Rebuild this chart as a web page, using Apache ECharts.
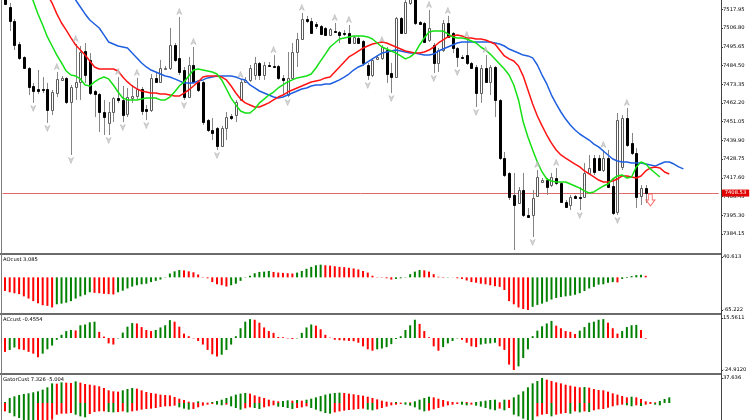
<!DOCTYPE html>
<html><head><meta charset="utf-8">
<script src="https://cdn.jsdelivr.net/npm/echarts@6/dist/echarts.min.js"></script>
<style>html,body{margin:0;padding:0;background:#fff}#c{width:752px;height:420px}</style>
</head><body><div id="c"></div>
<script>
const open = [7525.9,7519.3,7511.0,7497.3,7489.6,7483.0,7472.3,7470.5,7470.5,7470.5,
7458.0,7468.1,7475.9,7477.1,7462.8,7471.7,7474.7,7493.1,7487.8,7469.3,
7467.5,7456.8,7450.3,7456.8,7465.2,7464.0,7455.6,7465.2,7466.3,7470.5,
7458.6,7458.0,7477.1,7474.7,7482.7,7483.0,7496.7,7489.0,7481.8,7465.7,
7484.8,7474.7,7474.7,7452.0,7446.1,7447.3,7436.6,7447.3,7454.4,7455.0,
7464.0,7474.7,7475.9,7478.8,7486.0,7478.8,7484.8,7484.2,7484.2,7477.1,
7466.9,7477.1,7492.5,7500.3,7512.2,7511.0,7509.2,7508.0,7506.8,7502.7,
7505.3,7504.4,7503.9,7503.9,7497.9,7500.9,7499.1,7484.8,7478.8,7488.4,
7489.0,7493.7,7480.0,7477.6,7512.8,7503.9,7521.7,7525.3,7510.1,7509.8,
7499.7,7496.7,7486.0,7493.7,7509.8,7503.9,7494.9,7489.6,7490.7,7486.0,
7483.6,7468.1,7483.0,7474.7,7483.6,7464.0,7429.4,7420.5,7407.4,7402.6,
7410.4,7395.5,7395.5,7406.8,7415.1,7416.3,7413.3,7417.5,7414.5,7403.2,
7401.4,7406.8,7406.2,7406.2,7420.5,7429.4,7429.4,7422.3,7429.4,7412.7,
7397.3,7424.1,7453.2,7438.4,7432.4,7406.8,7411.5];
const close = [7521.4,7510.7,7496.7,7489.0,7483.0,7471.7,7469.6,7469.6,7470.2,7458.0,
7468.7,7476.5,7477.1,7462.8,7471.7,7474.7,7492.5,7478.8,7468.1,7467.5,
7456.8,7453.8,7456.8,7465.2,7464.2,7455.0,7465.7,7466.3,7470.5,7457.4,
7457.4,7477.1,7474.7,7483.0,7483.0,7496.7,7487.8,7480.6,7465.7,7484.8,
7474.7,7469.9,7450.8,7446.1,7444.3,7436.6,7447.3,7453.8,7453.5,7462.8,
7474.7,7475.9,7483.0,7486.0,7478.8,7484.8,7484.2,7483.6,7477.1,7475.9,
7477.1,7492.5,7500.3,7512.2,7511.0,7503.9,7508.0,7503.3,7502.7,7506.2,
7504.7,7502.7,7503.3,7497.9,7501.5,7497.9,7486.0,7478.8,7487.8,7489.3,
7495.5,7479.4,7477.6,7512.8,7503.9,7522.3,7525.3,7509.8,7509.2,7498.5,
7506.8,7486.0,7493.7,7509.8,7501.5,7494.9,7489.6,7489.0,7486.0,7483.0,
7468.1,7483.0,7474.7,7483.6,7464.0,7429.4,7419.3,7406.2,7401.4,7410.4,
7395.5,7394.3,7405.6,7418.1,7416.3,7412.1,7418.1,7414.5,7403.2,7400.2,
7406.2,7405.6,7405.6,7420.5,7423.5,7421.1,7422.3,7429.4,7412.1,7396.7,
7452.0,7453.2,7437.2,7432.4,7406.2,7411.5,7408.53];
const low = [7520.8,7505.0,7493.7,7487.8,7482.4,7466.9,7462.2,7467.5,7468.1,7450.3,
7455.0,7465.7,7475.3,7461.6,7431.2,7464.0,7464.0,7474.1,7466.9,7453.8,
7444.9,7443.1,7443.1,7450.8,7462.2,7450.8,7453.8,7462.2,7464.0,7455.0,
7452.0,7456.8,7474.1,7474.1,7481.8,7481.8,7486.6,7478.8,7464.0,7465.2,
7474.1,7468.7,7449.1,7444.9,7440.1,7434.2,7436.0,7440.1,7452.0,7450.8,
7463.4,7474.1,7474.7,7475.9,7475.9,7475.9,7483.6,7483.0,7475.9,7466.9,
7465.7,7475.9,7483.6,7499.7,7509.8,7503.3,7506.2,7502.7,7502.1,7502.1,
7504.4,7497.9,7502.1,7497.3,7497.3,7497.3,7484.2,7475.9,7477.6,7487.8,
7487.8,7474.1,7468.1,7477.1,7503.3,7503.3,7520.5,7508.6,7508.6,7497.9,
7498.5,7480.0,7480.6,7492.5,7500.9,7491.9,7483.6,7488.4,7484.8,7482.4,
7459.8,7462.2,7474.1,7466.9,7453.8,7428.2,7418.1,7404.4,7374.6,7402.0,
7394.3,7394.0,7382.4,7406.2,7414.5,7407.4,7412.1,7413.3,7402.6,7399.6,
7398.4,7405.0,7398.4,7405.6,7419.3,7419.3,7421.7,7421.1,7411.5,7395.5,
7395.5,7422.3,7436.0,7431.2,7399.6,7401.4,7402.6];
const high = [7527.1,7521.7,7512.2,7498.5,7490.0,7483.6,7474.1,7481.8,7477.6,7474.1,
7469.9,7480.6,7478.2,7477.6,7472.9,7497.3,7496.1,7497.9,7491.9,7469.9,
7468.1,7464.0,7462.8,7465.7,7477.6,7472.3,7471.1,7472.9,7477.1,7471.7,
7461.0,7479.4,7480.6,7487.8,7484.2,7506.8,7497.9,7513.4,7483.6,7489.6,
7495.5,7475.9,7475.3,7452.6,7453.2,7447.9,7448.5,7456.8,7455.6,7464.0,
7475.9,7477.6,7484.8,7489.6,7486.6,7486.6,7486.6,7490.7,7484.8,7478.8,
7492.5,7497.9,7503.9,7515.8,7514.0,7512.8,7510.4,7508.6,7507.4,7506.8,
7509.8,7505.0,7505.6,7508.6,7502.1,7502.1,7499.7,7486.0,7489.0,7490.2,
7496.7,7495.5,7486.0,7513.4,7513.4,7523.5,7528.3,7526.5,7511.0,7510.4,
7517.5,7497.9,7494.9,7511.6,7514.0,7504.4,7495.5,7490.7,7499.7,7486.6,
7484.8,7484.8,7490.7,7484.8,7484.2,7464.5,7433.0,7421.1,7420.5,7412.1,
7420.5,7399.6,7410.4,7422.3,7417.5,7417.5,7420.5,7423.5,7415.1,7404.4,
7407.4,7407.4,7412.1,7426.4,7431.2,7431.2,7431.2,7434.2,7434.2,7417.5,
7456.2,7455.0,7459.2,7444.3,7435.4,7413.3,7413.3];

// Alligator (jaw shifted 8, teeth 5, lips 3 bars forward)
const jaw = [7572.3,7570.0,7567.6,7565.2,7562.2,7559.2,7556.3,7553.3,7549.7,7546.1,
7542.6,7539.0,7535.4,7531.2,7527.1,7523.5,7519.3,7515.2,7511.6,7509.2,
7506.8,7502.7,7498.5,7497.3,7496.1,7495.5,7494.9,7491.9,7489.0,7486.0,
7483.6,7481.8,7480.6,7479.4,7478.2,7477.6,7476.5,7475.3,7474.1,7474.1,
7474.1,7475.3,7475.9,7477.1,7477.6,7478.2,7478.2,7478.2,7478.2,7477.6,
7476.5,7475.9,7472.9,7471.1,7469.3,7468.1,7466.9,7465.7,7465.1,7465.7,
7466.9,7468.1,7469.3,7470.5,7471.1,7472.3,7472.9,7472.9,7473.5,7473.5,
7474.7,7475.9,7477.6,7479.4,7481.8,7483.6,7484.8,7486.6,7488.4,7490.2,
7491.9,7492.5,7493.1,7493.7,7493.1,7492.5,7491.9,7491.9,7491.3,7490.7,
7490.7,7491.3,7493.1,7494.3,7495.5,7496.7,7497.9,7498.5,7498.5,7498.5,
7498.5,7498.5,7498.5,7498.5,7497.9,7497.3,7496.1,7494.3,7493.1,7491.9,
7490.7,7490.2,7489.0,7484.8,7478.8,7473.5,7466.9,7461.6,7456.8,7452.6,
7449.1,7446.1,7443.7,7441.9,7440.1,7437.7,7436.0,7433.6,7431.2,7428.8,
7427.6,7427.0,7427.0,7426.4,7426.4,7426.4,7425.8,7425.2,7424.6,7425.8,
7427.0,7427.0,7425.8,7424.1,7422.9];
const teeth = [7572.3,7567.6,7562.8,7558.0,7553.3,7547.9,7542.6,7537.2,7531.8,7526.5,
7521.7,7515.2,7509.8,7505.6,7500.9,7496.7,7493.7,7490.7,7487.2,7483.6,
7482.4,7482.4,7482.4,7482.4,7481.2,7477.6,7474.7,7472.3,7470.5,7469.3,
7468.7,7468.1,7468.1,7467.5,7467.5,7466.9,7466.3,7466.3,7468.1,7469.9,
7472.3,7474.7,7477.6,7478.2,7478.2,7478.2,7477.6,7475.9,7472.3,7468.1,
7464.5,7462.2,7461.0,7459.8,7459.8,7461.0,7462.2,7464.0,7465.7,7466.9,
7468.7,7469.9,7471.1,7472.3,7473.5,7474.7,7475.3,7475.9,7477.1,7477.6,
7480.6,7483.6,7486.6,7489.6,7491.3,7493.1,7494.9,7496.1,7497.3,7497.9,
7498.5,7497.9,7496.7,7495.5,7494.3,7493.1,7492.5,7491.9,7491.9,7492.5,
7493.7,7495.5,7497.9,7499.7,7501.5,7502.1,7502.7,7502.1,7500.9,7500.9,
7500.3,7500.3,7499.7,7498.5,7497.3,7493.7,7490.2,7488.4,7487.2,7484.2,
7478.2,7469.9,7461.6,7454.4,7448.5,7443.1,7438.3,7434.2,7431.2,7429.4,
7427.6,7425.8,7424.1,7421.7,7419.9,7418.1,7416.3,7415.1,7415.1,7415.7,
7416.9,7418.7,7418.7,7418.1,7417.5,7418.7,7421.7,7423.5,7424.1,7423.5,
7421.1,7419.9];
const lips = [7555.7,7550.3,7544.9,7539.6,7534.2,7528.9,7522.9,7515.2,7508.6,7501.5,
7496.1,7490.7,7486.0,7481.2,7478.8,7478.2,7476.5,7472.9,7472.3,7474.7,
7476.5,7477.6,7476.5,7472.9,7468.7,7465.1,7464.0,7464.0,7464.0,7464.5,
7465.1,7465.1,7465.1,7464.0,7464.0,7465.7,7468.7,7472.3,7474.7,7478.2,
7481.8,7482.4,7481.8,7481.2,7480.6,7479.4,7475.9,7470.5,7465.1,7461.0,
7457.4,7456.2,7456.2,7458.6,7462.2,7464.5,7466.9,7468.7,7471.1,7472.9,
7474.7,7475.9,7477.1,7477.6,7478.2,7479.4,7483.0,7487.2,7491.3,7495.5,
7497.9,7500.3,7500.9,7501.5,7502.1,7502.1,7502.1,7501.5,7500.3,7497.9,
7495.5,7494.3,7493.1,7491.9,7490.2,7488.4,7489.6,7491.9,7496.7,7500.9,
7504.4,7505.0,7505.0,7505.0,7503.3,7501.5,7500.9,7500.9,7500.3,7499.1,
7497.9,7495.5,7493.7,7491.3,7488.4,7485.4,7482.4,7478.8,7472.9,7464.0,
7450.8,7441.9,7434.2,7427.0,7421.1,7416.9,7415.7,7415.1,7415.1,7415.1,
7413.9,7412.7,7411.5,7409.8,7408.6,7409.2,7411.0,7412.7,7413.9,7416.9,
7418.7,7419.3,7417.5,7418.1,7424.1,7427.0,7425.8,7422.9,7420.5,7418.1];

const fractalUp = [11,15,24,28,37,40,50,57,63,70,73,80,90,94,98,102,113,117,127,132];
const fractalDown = [6,9,14,22,25,30,38,45,60,77,82,91,96,100,112,122,130];
const signalArrow = [[137, 7404.4]];

const ao = [-27.2,-29.8,-31.7,-33.5,-38.0,-42.4,-47.5,-51.9,-55.7,-57.0,
-60.1,-53.8,-52.5,-50.6,-47.5,-42.4,-38.0,-34.8,-29.8,-31.0,
-31.7,-32.9,-33.5,-34.2,-29.8,-26.6,-22.2,-18.4,-15.8,-13.9,
-12.7,-9.5,-7.0,-4.4,-0.6,7.6,12.0,14.6,13.9,12.0,
10.1,5.7,0.6,-1.9,-9.5,-13.9,-15.8,-18.4,-15.8,-12.7,
-7.0,-0.6,3.2,8.2,10.8,11.4,12.7,10.8,9.5,8.9,
8.2,7.6,9.5,12.7,17.1,20.9,24.1,25.3,24.1,23.4,
22.2,20.9,20.3,19.0,17.7,15.8,12.7,9.5,3.2,0.6,
-0.6,-1.9,-4.4,-3.2,-1.9,-0.6,6.3,11.4,14.6,13.9,
11.4,6.3,1.3,-0.9,-0.6,-0.3,-1.9,-3.2,-6.3,-9.5,
-10.8,-12.7,-13.9,-15.8,-17.7,-19.0,-25.3,-47.5,-53.8,-60.1,
-63.3,-65.2,-58.9,-55.1,-52.5,-48.7,-44.3,-41.1,-39.2,-38.0,
-36.7,-34.8,-31.7,-27.2,-22.2,-19.0,-14.6,-13.9,-10.8,-9.5,
-10.1,-3.2,-1.3,2.5,4.4,5.1,3.085];
const ac = [-10.8,-9.3,-7.4,-8.8,-9.3,-10.8,-12.2,-15.0,-12.2,-8.8,
-5.9,-1.4,2.5,5.4,6.2,5.9,9.9,10.5,12.2,12.7,
4.8,1.1,-4.2,-5.1,-0.3,4.2,8.8,11.6,11.3,8.5,
6.2,5.4,6.2,8.2,9.9,13.9,12.7,8.8,3.4,1.4,
-0.3,-2.3,-5.1,-9.3,-12.7,-14.4,-13.0,-9.3,-5.1,1.4,
7.6,12.7,14.7,14.2,11.9,8.2,5.4,4.0,0.8,0.6,
-0.3,-0.8,-0.3,4.0,8.2,10.5,9.6,6.8,2.5,0.3,
-1.4,-1.7,-2.0,-2.3,-2.5,-3.7,-6.5,-8.8,-9.9,-8.8,
-8.2,-7.1,-4.8,-0.8,1.4,6.2,9.9,14.2,11.0,5.4,
0.6,-6.5,-9.9,-7.1,-4.2,-2.3,-0.3,-1.4,-3.7,-6.5,
-7.1,-5.1,-4.5,-4.2,-3.7,-6.5,-9.3,-20.7,-24.9,-22.1,
-15.6,-8.8,1.4,5.7,9.1,11.3,13.3,9.6,7.6,5.4,
4.8,3.1,5.7,8.5,11.9,12.7,14.2,14.7,11.9,7.6,
3.4,5.4,8.5,9.9,10.2,6.2,-0.4554];
const gatorUp = [1.5,7.5,10.0,12.0,13.6,14.6,16.1,17.6,20.1,23.6,
29.6,29.1,31.1,30.6,30.1,32.6,30.6,28.6,27.6,26.6,
25.1,22.6,19.1,17.6,17.1,19.1,21.1,22.6,21.6,19.1,
16.6,15.1,14.1,12.6,12.0,11.5,9.0,6.5,4.5,2.0,
1.0,2.5,1.0,0.5,1.5,3.0,5.0,7.5,10.0,12.6,
14.1,15.1,14.1,11.5,9.5,7.5,5.0,3.5,2.5,3.0,
4.0,3.5,4.5,3.5,5.0,6.5,8.5,10.5,12.6,14.1,
15.1,15.6,15.1,14.1,13.1,12.0,11.0,9.5,7.5,5.5,
3.5,2.0,1.0,1.5,0.5,1.0,0.9,2.5,5.0,7.5,
9.5,8.5,6.5,4.5,2.5,1.5,1.0,2.0,1.5,0.5,
1.5,2.5,3.5,4.5,5.0,1.0,5.0,4.8,8.5,12.6,
17.6,23.6,29.6,33.1,37.636,35.1,33.1,31.1,29.6,27.6,
26.1,24.6,23.6,24.1,23.1,21.1,19.6,19.1,17.1,14.6,
12.6,10.5,8.5,9.5,8.5,6.0,2.5,1.5,1.0,3.0,
6.0,8.5];
const gatorDown = [-12.6,-15.1,-20.1,-22.6,-25.6,-27.6,-30.1,-30.0,-28.6,-26.6,
-25.1,-17.6,-16.1,-16.0,-15.1,-17.6,-20.1,-21.6,-16.6,-13.6,
-12.6,-12.5,-13.6,-14.1,-13.6,-12.6,-14.1,-12.6,-11.5,-10.0,
-9.0,-8.5,-7.5,-6.0,-5.0,-4.9,-4.0,-6.5,-8.5,-10.0,
-9.0,-6.5,-4.0,-2.5,-1.5,-2.5,-3.5,-2.5,-5.0,-7.5,
-10.0,-8.0,-6.5,-7.5,-9.0,-6.5,-5.0,-3.5,-5.5,-6.0,
-7.5,-9.0,-7.5,-6.5,-5.0,-7.5,-10.0,-12.6,-15.1,-16.1,
-14.1,-12.6,-11.5,-10.5,-10.0,-9.0,-8.5,-10.0,-11.0,-9.5,
-7.5,-5.5,-3.5,-2.5,-1.5,-2.5,-4.0,-6.5,-10.0,-12.6,
-11.5,-9.5,-7.5,-5.5,-3.5,-2.5,-1.5,-2.5,-3.5,-2.5,
-4.0,-5.5,-7.5,-9.5,-11.0,-8.5,-11.0,-7.5,-17.6,-20.1,
-23.6,-26.6,-27.6,-20.1,-17.6,-16.6,-20.1,-17.6,-16.1,-15.1,
-16.1,-12.6,-14.1,-12.6,-13.6,-11.0,-9.5,-9.0,-7.0,-5.0,
-3.5,-2.5,-3.5,-5.0,-3.5,-4.5,-2.5,-1.5,-2.5,-3.5];
const gatorLast = [7.326, -5.004];

const mainTicks = [7384.15,7395.30,7406.45,7417.60,7428.75,7439.90,7451.05,7462.20,7473.35,7484.50,7495.65,7506.80,7517.95];
const aoRange = [-65.222, 40.613];
const acRange = [-24.912, 15.5611];
const gatorMaxLabel = 37.636;

const GREEN = '#008000', RED = '#ff0000';
const NCAT = 152;
const cats = Array.from({length: NCAT}, (_, i) => i);
const lastClose = close[close.length - 1];

function colored(vals, firstColor, useAbs) {
  let col = firstColor;
  return vals.map((v, i) => {
    if (i > 0) {
      const a = useAbs ? Math.abs(v) : v;
      const b = useAbs ? Math.abs(vals[i - 1]) : vals[i - 1];
      if (a > b) col = GREEN; else if (a < b) col = RED;
    }
    return { value: v, itemStyle: { color: col } };
  });
}

const FONT = 'DejaVu Sans';
const FS = 5.2;
const L = 2.64, R = 33.26;
const grids = [
  { left: L, right: R, top: 0, height: 253 },
  { left: L, right: R, top: 257, height: 53 },
  { left: L, right: R, top: 318, height: 52 },
  { left: L, right: R, top: 376, height: 44 }
];
const xAxes = grids.map((g, i) => ({ type: 'category', gridIndex: i, data: cats, show: false, boundaryGap: true }));
function yAx(i, min, max, ticks, fmt) {
  return {
    type: 'value', gridIndex: i, position: 'right', offset: 2.3, min: min, max: max,
    axisLine: { show: false },
    axisTick: { show: true, length: 2, lineStyle: { color: '#333', width: 1 }, customValues: ticks },
    axisLabel: { show: true, customValues: ticks, formatter: fmt, fontSize: FS, fontFamily: FONT, color: '#000', margin: 2 },
    splitLine: { show: false }
  };
}
const yAxes = [
  yAx(0, 7372.84, 7523.49, mainTicks, v => v.toFixed(2)),
  yAx(1, aoRange[0], aoRange[1], aoRange, v => v.toFixed(3)),
  yAx(2, acRange[0], acRange[1], acRange, v => v.toFixed(4)),
  yAx(3, -25.6, 40.66, [gatorMaxLabel], v => v.toFixed(3))
];

const candleData = open.map((o, i) => [i, o, close[i], low[i], high[i]]);

const upPath = 'path://M5,0 L10,10 L5,7 L0,10 Z';
const downPath = 'path://M0,0 L5,3 L10,0 L5,10 Z';
const hollowDown = 'path://M3,0 L7,0 L7,6 L10,6 L5,12 L0,6 L3,6 Z';

const option = {
  animation: false,
  backgroundColor: '#ffffff',
  grid: grids,
  xAxis: xAxes,
  yAxis: yAxes,
  series: [
    {
      type: 'custom', xAxisIndex: 0, yAxisIndex: 0, clip: true, z: 2,
      encode: { x: 0, y: [1, 2, 3, 4] },
      data: candleData,
      renderItem: function (params, api) {
        const idx = api.value(0);
        const x = api.coord([idx, api.value(1)])[0];
        const yo = api.coord([idx, api.value(1)])[1];
        const yc = api.coord([idx, api.value(2)])[1];
        const yl = api.coord([idx, api.value(3)])[1];
        const yh = api.coord([idx, api.value(4)])[1];
        const bull = api.value(2) >= api.value(1);
        const cx = Math.round(x) + 0.5;
        const top = Math.round(Math.min(yo, yc)) + 0.5;
        const bot = Math.round(Math.max(yo, yc)) + 0.5;
        return {
          type: 'group',
          children: [
            { type: 'line', shape: { x1: cx, y1: yh, x2: cx, y2: yl }, style: { stroke: '#858585', lineWidth: 1 } },
            { type: 'rect', shape: { x: cx - 1, y: top, width: 2, height: Math.max(bot - top, 1) },
              style: { fill: bull ? '#ffffff' : '#000000', stroke: bull ? '#5a5a5a' : '#000000', lineWidth: 1 } }
          ]
        };
      }
    },
    { type: 'line', name: 'Jaw', xAxisIndex: 0, yAxisIndex: 0, data: jaw, showSymbol: false, z: 3,
      lineStyle: { color: '#1f5fe0', width: 1.5 } },
    { type: 'line', name: 'Teeth', xAxisIndex: 0, yAxisIndex: 0, data: teeth, showSymbol: false, z: 3,
      lineStyle: { color: '#ff1414', width: 1.5 } },
    { type: 'line', name: 'Lips', xAxisIndex: 0, yAxisIndex: 0, data: lips, showSymbol: false, z: 3,
      lineStyle: { color: '#14e014', width: 1.5 },
      markLine: {
        silent: true, symbol: ['none', 'none'], z: 1,
        lineStyle: { color: '#e06a6a', width: 1, type: 'solid', opacity: 1 },
        label: { show: true, position: 'end', distance: 3, formatter: () => lastClose.toFixed(2),
          backgroundColor: '#e00000', color: '#ffffff', fontSize: FS, fontFamily: FONT, padding: [1, 3] },
        emphasis: { disabled: true },
        data: [{ yAxis: lastClose, lineStyle: { color: '#e06a6a' } }]
      } },
    { type: 'scatter', xAxisIndex: 0, yAxisIndex: 0, z: 4, silent: true,
      data: fractalUp.map(i => [i, high[i]]), symbol: upPath, symbolSize: [5, 6], symbolOffset: [0, -5.5],
      itemStyle: { color: '#cdcdcd', borderColor: '#9a9a9a', borderWidth: 0.5 } },
    { type: 'scatter', xAxisIndex: 0, yAxisIndex: 0, z: 4, silent: true,
      data: fractalDown.map(i => [i, low[i]]), symbol: downPath, symbolSize: [5, 6], symbolOffset: [0, 5.5],
      itemStyle: { color: '#cdcdcd', borderColor: '#9a9a9a', borderWidth: 0.5 } },
    { type: 'scatter', xAxisIndex: 0, yAxisIndex: 0, z: 4, silent: true,
      data: signalArrow, symbol: hollowDown, symbolSize: [9, 12],
      itemStyle: { color: '#ffffff', borderColor: '#ff4a4a', borderWidth: 1 } },
    { type: 'bar', xAxisIndex: 1, yAxisIndex: 1, barWidth: 2, silent: true, data: colored(ao, RED, false) },
    { type: 'bar', xAxisIndex: 2, yAxisIndex: 2, barWidth: 2, silent: true, data: colored(ac, RED, false) },
    { type: 'bar', xAxisIndex: 3, yAxisIndex: 3, barWidth: 2, barGap: '-100%', silent: true, data: colored(gatorUp, GREEN, true) },
    { type: 'bar', xAxisIndex: 3, yAxisIndex: 3, barWidth: 2, barGap: '-100%', silent: true, data: colored(gatorDown, RED, true) }
  ],
  graphic: [
    { type: 'rect', silent: true, z: 10, shape: { x: 0, y: 253, width: 721, height: 2 }, style: { fill: '#6b6b6b' } },
    { type: 'rect', silent: true, z: 10, shape: { x: 0, y: 313, width: 721, height: 2 }, style: { fill: '#6b6b6b' } },
    { type: 'rect', silent: true, z: 10, shape: { x: 0, y: 373, width: 721, height: 2 }, style: { fill: '#6b6b6b' } },
    { type: 'line', silent: true, z: 10, shape: { x1: 1.5, y1: 0, x2: 1.5, y2: 420 }, style: { stroke: '#7d7d7d', lineWidth: 1 } },
    { type: 'line', silent: true, z: 10, shape: { x1: 721.5, y1: 0, x2: 721.5, y2: 420 }, style: { stroke: '#444444', lineWidth: 1 } },
    { type: 'text', silent: true, z: 10, x: 3, y: 259.7,
      style: { text: 'AOcust ' + ao[ao.length - 1], fill: '#000', fontSize: FS, fontFamily: FONT, verticalAlign: 'middle' } },
    { type: 'text', silent: true, z: 10, x: 3, y: 319.7,
      style: { text: 'ACcust ' + ac[ac.length - 1], fill: '#000', fontSize: FS, fontFamily: FONT, verticalAlign: 'middle' } },
    { type: 'text', silent: true, z: 10, x: 3, y: 379.7,
      style: { text: 'GatorCust ' + gatorLast[0] + ' ' + gatorLast[1], fill: '#000', fontSize: FS, fontFamily: FONT, verticalAlign: 'middle' } }
  ]
};

const chart = echarts.init(document.getElementById('c'), null, { renderer: 'canvas' });
chart.setOption(option);
</script>
</body></html>
